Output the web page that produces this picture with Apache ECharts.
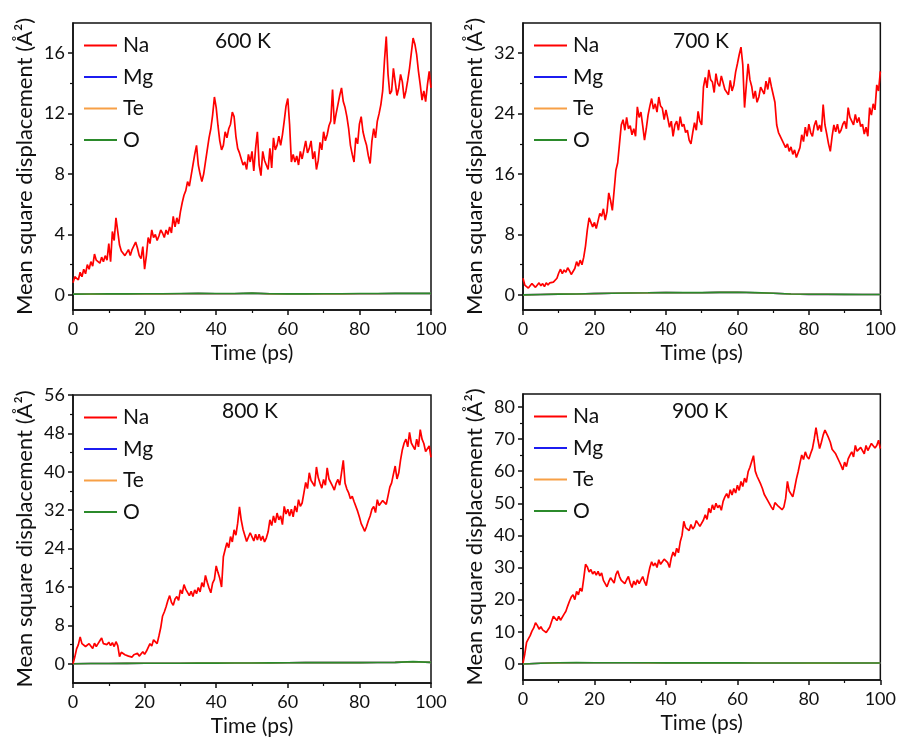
<!DOCTYPE html>
<html><head><meta charset="utf-8">
<script src="https://cdn.jsdelivr.net/npm/echarts@6/dist/echarts.min.js"></script>
<style>html,body{margin:0;padding:0;background:#fff}#c{width:899px;height:740px}</style>
</head><body><div id="c"></div>
<script>
// sampling grids (ps)
const naStep = 0.5;
const smallStep = 5;
const temperatures = ['600 K', '700 K', '800 K', '900 K'];
const speciesNames = ['Na', 'Mg', 'Te', 'O'];
const xTickLabels = [0, 20, 40, 60, 80, 100];

// Na MSD (Å²), every 0.5 ps from 0 to 100 ps
const na600 = [
0.8,1.2,1.3,1.0,1.5,1.2,1.7,1.4,2.0,1.7,
2.2,1.9,2.7,2.3,2.3,2.1,2.5,2.2,2.6,2.3,
3.4,2.2,4.2,3.6,5.1,4.2,3.3,2.9,2.9,2.6,
2.7,3.0,2.6,3.0,2.9,3.5,3.1,2.6,2.4,3.2,
1.7,2.6,3.8,3.4,4.3,3.8,4.0,3.6,3.9,4.3,
4.1,3.8,4.3,4.0,4.5,4.1,5.2,4.5,5.1,4.7,
5.5,6.1,6.6,6.9,7.5,7.2,7.9,8.6,9.3,9.9,
8.6,8.0,7.5,8.0,8.8,9.6,10.4,11.0,11.9,13.1,
12.4,11.2,10.2,9.6,9.9,10.8,10.4,11.0,11.3,12.1,
11.8,10.5,9.7,9.4,9.3,8.6,8.8,8.3,9.3,8.8,
9.5,8.2,9.7,10.8,8.6,7.9,9.5,8.9,9.0,8.3,
9.7,8.4,10.4,9.6,9.9,10.5,9.9,10.6,11.5,12.5,
13.0,11.3,8.8,9.3,8.8,9.2,8.6,9.5,9.0,9.6,
10.2,9.4,9.7,10.2,9.0,9.5,8.3,8.9,10.1,9.6,
10.8,10.2,10.6,11.2,11.5,13.6,11.3,12.0,12.6,13.2,
13.7,12.8,12.4,11.8,11.0,9.9,9.3,8.8,10.4,10.0,
11.3,11.8,10.8,10.3,9.9,9.2,8.7,10.2,11.0,10.4,
11.5,12.0,12.6,13.5,15.5,17.1,14.6,13.3,13.5,15.0,
14.1,13.2,13.7,14.6,14.1,13.0,13.5,14.2,15.0,16.0,
17.0,16.6,15.9,14.8,13.9,12.9,13.5,12.8,13.9,14.8,
13.7];
const na700 = [
2.2,1.3,1.4,0.9,1.2,1.5,1.6,1.0,1.3,1.6,
1.2,1.5,1.1,1.6,1.3,1.6,1.4,1.7,1.6,2.2,
2.9,3.4,2.8,3.3,3.0,3.6,3.2,2.7,2.6,3.5,
4.4,3.8,4.6,4.0,5.0,6.5,8.6,10.2,10.0,9.0,
9.6,8.8,9.8,10.8,10.4,11.4,9.9,11.0,13.5,12.5,
11.2,13.8,16.5,17.5,20.0,22.5,23.2,21.8,23.5,22.0,
22.4,21.2,22.0,21.0,24.9,23.5,24.2,22.4,20.5,22.0,
23.8,25.0,26.0,24.6,25.3,24.2,26.2,25.0,24.7,23.2,
24.5,23.4,22.2,23.0,21.0,22.5,23.0,21.8,23.6,22.3,
22.6,21.5,21.8,20.5,20.0,21.5,22.8,21.8,24.3,23.0,
22.5,27.5,28.8,27.4,29.8,28.5,28.2,26.8,29.3,28.0,
27.6,29.0,28.9,27.2,27.4,26.5,28.4,27.0,27.8,29.5,
30.6,31.8,32.8,30.5,24.8,27.8,30.6,28.5,27.6,26.0,
27.0,25.5,26.2,27.5,27.4,26.6,28.3,27.2,28.8,27.6,
27.4,25.5,22.5,21.5,21.4,20.5,20.6,19.5,20.0,19.0,
19.6,18.6,19.2,18.2,18.0,19.5,21.2,20.3,22.2,21.0,
22.6,21.5,21.0,22.4,23.1,21.8,22.5,21.6,25.2,22.5,
21.3,20.0,19.0,21.0,22.5,21.6,22.6,21.4,21.8,22.6,
23.0,22.0,24.8,23.5,23.5,22.5,23.9,22.8,23.5,22.3,
22.6,21.3,22.2,21.0,24.8,23.8,25.3,24.5,27.8,27.0,
29.6];
const na800 = [
0.0,1.4,3.1,4.0,5.6,4.2,4.6,3.6,3.4,4.2,
3.8,3.2,4.3,3.6,4.2,4.8,5.4,4.2,4.6,4.0,
4.5,3.8,4.4,3.6,4.6,3.8,1.5,2.4,2.6,1.9,
2.3,1.6,1.8,1.4,1.9,1.5,2.2,1.6,1.8,2.5,
2.0,2.6,2.9,4.2,3.7,5.0,4.8,4.2,5.8,7.5,
9.9,10.8,11.9,13.2,14.2,12.8,12.2,13.5,14.0,13.2,
15.4,14.6,16.5,15.5,15.4,14.2,15.1,14.0,15.4,14.6,
15.9,15.0,16.9,16.0,18.4,17.0,15.8,14.8,16.8,17.6,
20.4,19.0,17.8,16.0,22.3,23.8,25.2,24.2,26.5,25.4,
27.9,26.8,29.3,32.7,29.9,28.0,27.6,25.5,25.6,27.3,
27.2,25.6,27.0,25.8,27.0,25.7,26.6,25.4,26.2,27.5,
30.0,28.8,30.8,29.4,31.4,30.0,30.8,29.0,32.8,31.2,
32.2,30.8,32.2,30.6,32.9,31.6,34.2,32.8,33.5,35.6,
37.8,36.5,39.8,38.2,38.4,37.0,41.0,38.8,37.6,36.6,
38.4,37.2,40.8,38.5,38.4,37.0,36.2,37.6,38.4,37.2,
39.8,42.4,37.6,36.4,35.6,34.4,34.9,33.8,33.5,31.8,
30.6,29.2,28.4,27.6,28.6,29.8,30.8,32.2,32.8,31.5,
34.2,33.0,32.7,34.0,34.2,33.2,35.0,36.8,37.7,39.5,
41.2,38.5,39.8,42.5,44.6,46.0,46.8,45.2,48.2,46.0,
45.9,44.6,46.8,45.2,48.8,46.8,45.9,44.2,43.8,45.4,
43.0];
const na900 = [
0.3,3.1,6.7,7.8,8.8,10.2,11.2,12.8,12.0,10.8,
11.6,10.6,11.2,9.8,9.5,11.5,13.2,14.8,14.6,13.5,
14.8,13.6,14.0,15.5,16.4,18.0,19.5,20.8,21.5,20.0,
22.6,21.5,23.6,22.6,26.6,31.0,30.2,28.6,29.4,28.0,
28.8,27.6,28.8,27.4,28.3,26.0,26.6,24.0,25.6,26.8,
26.6,25.2,27.8,29.0,27.2,26.0,26.2,25.0,26.2,27.2,
25.2,23.8,25.8,24.6,26.2,25.0,25.2,27.2,25.6,24.4,
27.5,30.0,31.8,30.5,31.4,30.0,32.4,31.0,30.8,32.6,
33.0,31.5,30.0,33.0,34.8,33.5,36.0,34.6,38.0,40.0,
44.4,42.4,43.0,41.5,43.4,42.0,42.8,44.6,44.2,42.8,
43.2,44.8,46.4,45.0,48.4,47.0,49.5,48.0,50.0,48.6,
49.4,47.8,50.6,52.0,53.0,51.6,54.2,52.6,54.6,53.2,
55.6,54.0,56.8,55.2,57.8,56.5,59.8,61.2,63.0,64.8,
60.0,58.4,57.8,56.0,54.6,52.8,52.6,50.8,50.6,48.8,
48.0,50.2,50.6,49.0,49.4,48.0,48.8,51.5,56.8,53.8,
53.6,52.0,54.6,57.5,59.8,62.5,65.0,63.6,66.0,64.5,
63.8,65.5,67.0,70.0,73.5,70.0,67.0,69.0,71.2,72.8,
72.2,70.4,69.0,66.8,67.0,65.4,64.8,63.0,61.8,60.4,
62.8,61.4,63.8,65.0,66.0,64.4,68.0,66.2,65.8,67.4,
67.0,65.4,68.0,66.4,67.0,68.6,69.0,67.2,68.0,69.6,
67.0];

// Mg, Te, O MSD (Å²), every 5 ps from 0 to 100 ps
const mg600 = [0.04,0.05,0.06,0.06,0.07,0.07,0.08,0.09,0.08,0.08,0.11,0.07,0.06,0.06,0.07,0.07,0.08,0.08,0.09,0.09,0.09];
const te600 = [0.04,0.05,0.06,0.06,0.07,0.07,0.08,0.09,0.08,0.08,0.11,0.07,0.06,0.06,0.07,0.07,0.08,0.08,0.09,0.09,0.09];
const o600  = [0.05,0.06,0.07,0.07,0.08,0.08,0.09,0.10,0.09,0.09,0.12,0.08,0.07,0.07,0.08,0.08,0.09,0.09,0.10,0.10,0.10];
const mg700 = [0.0,0.05,0.1,0.12,0.17,0.21,0.25,0.27,0.31,0.29,0.29,0.33,0.35,0.29,0.21,0.11,0.07,0.07,0.06,0.05,0.05];
const te700 = [0.0,0.05,0.1,0.12,0.17,0.21,0.25,0.27,0.31,0.29,0.29,0.33,0.35,0.29,0.21,0.11,0.07,0.07,0.06,0.05,0.05];
const o700  = [0.0,0.05,0.1,0.12,0.18,0.22,0.26,0.28,0.32,0.30,0.30,0.34,0.36,0.30,0.22,0.12,0.08,0.08,0.07,0.06,0.06];
const mg800 = [0.0,0.05,0.06,0.08,0.10,0.12,0.12,0.14,0.15,0.16,0.18,0.20,0.22,0.24,0.24,0.25,0.24,0.26,0.30,0.44,0.30];
const te800 = [0.0,0.05,0.06,0.08,0.10,0.12,0.12,0.14,0.15,0.16,0.18,0.20,0.22,0.24,0.24,0.25,0.24,0.26,0.30,0.44,0.30];
const o800  = [0.0,0.05,0.06,0.08,0.10,0.12,0.12,0.14,0.15,0.16,0.18,0.20,0.22,0.24,0.24,0.25,0.24,0.26,0.30,0.45,0.30];
const mg900 = [0.0,0.2,0.34,0.39,0.37,0.35,0.35,0.34,0.33,0.33,0.32,0.31,0.31,0.29,0.27,0.27,0.26,0.26,0.27,0.29,0.29];
const te900 = [0.0,0.2,0.34,0.39,0.37,0.35,0.35,0.34,0.33,0.33,0.32,0.31,0.31,0.29,0.27,0.27,0.26,0.26,0.27,0.29,0.29];
const o900  = [0.0,0.2,0.35,0.40,0.38,0.36,0.36,0.35,0.34,0.34,0.33,0.32,0.32,0.30,0.28,0.28,0.27,0.27,0.28,0.30,0.30];

// y-axis tick labels and ranges
const yRange600 = [-1, 18];  const yTicks600 = [0, 4, 8, 12, 16];      const yMinor600 = [2, 6, 10, 14];
const yRange700 = [-2, 36];  const yTicks700 = [0, 8, 16, 24, 32];     const yMinor700 = [4, 12, 20, 28];
const yRange800 = [-4, 56];  const yTicks800 = [0, 8, 16, 24, 32, 40, 48, 56]; const yMinor800 = [4, 12, 20, 28, 36, 44, 52];
const yRange900 = [-5, 84];  const yTicks900 = [0, 10, 20, 30, 40, 50, 60, 70, 80]; const yMinor900 = [5, 15, 25, 35, 45, 55, 65, 75];

const panels = [
  {na: na600, mg: mg600, te: te600, o: o600, range: yRange600, ticks: yTicks600, minor: yMinor600},
  {na: na700, mg: mg700, te: te700, o: o700, range: yRange700, ticks: yTicks700, minor: yMinor700},
  {na: na800, mg: mg800, te: te800, o: o800, range: yRange800, ticks: yTicks800, minor: yMinor800},
  {na: na900, mg: mg900, te: te900, o: o900, range: yRange900, ticks: yTicks900, minor: yMinor900}
];

const layout = [
  {left: 73, top: 23, width: 358, height: 287, tx: 244, ty: 43},
  {left: 523, top: 23, width: 358, height: 287, tx: 702, ty: 43},
  {left: 73, top: 395, width: 358, height: 288, tx: 251, ty: 413},
  {left: 523, top: 394, width: 358, height: 286, tx: 701, ty: 413}
];
const colors = {Na: '#ff0000', Mg: '#1c1cf0', Te: '#f7a046', O: '#2b8a2b'};
const FONT = 'Lato';
const INK = '#111111';

function pairs(arr, step) { return arr.map((v, i) => [i * step, v]); }

const option = {
  animation: false,
  backgroundColor: '#fff',
  textStyle: {fontFamily: FONT, color: INK},
  grid: [], xAxis: [], yAxis: [], series: [], legend: [], graphic: []
};

panels.forEach((p, i) => {
  const L = layout[i];
  option.grid.push({left: L.left, top: L.top, width: L.width, height: L.height,
    show: true, borderColor: INK, borderWidth: 1.5, backgroundColor: 'transparent'});
  option.xAxis.push({
    type: 'value', gridIndex: i, min: 0, max: 100, interval: 20,
    name: 'Time (ps)', nameLocation: 'middle', nameGap: 33,
    nameTextStyle: {fontFamily: FONT, fontSize: 21, color: INK},
    axisLine: {show: true, onZero: false, lineStyle: {color: INK, width: 1.5}},
    axisTick: {show: true, inside: false, length: 5, lineStyle: {color: INK, width: 1.5}},
    minorTick: {show: true, splitNumber: 2, length: 3, lineStyle: {color: INK, width: 1.2}},
    axisLabel: {fontFamily: FONT, fontSize: 18, color: INK, margin: 10,
      customValues: xTickLabels},
    splitLine: {show: false}
  });
  option.yAxis.push({
    type: 'value', gridIndex: i, min: p.range[0], max: p.range[1],
    name: 'Mean square displacement (Å²)', nameLocation: 'middle', nameGap: 37,
    nameTextStyle: {fontFamily: FONT, fontSize: 22, color: INK},
    axisLine: {show: true, onZero: false, lineStyle: {color: INK, width: 1.5}},
    axisTick: {show: true, inside: false, length: 5, lineStyle: {color: INK, width: 1.5},
      customValues: p.ticks},
    axisLabel: {fontFamily: FONT, fontSize: 18, color: INK, margin: 8, customValues: p.ticks},
    splitLine: {show: false}
  });
  // minor ticks on y
  option.yAxis.push({
    type: 'value', gridIndex: i, min: p.range[0], max: p.range[1], position: 'left',
    axisLine: {show: false},
    axisTick: {show: true, inside: false, length: 3, lineStyle: {color: INK, width: 1.2},
      customValues: p.minor},
    axisLabel: {show: false, customValues: p.minor},
    splitLine: {show: false}
  });
  const yi = i * 2;
  [['Mg', pairs(p.mg, smallStep)], ['Te', pairs(p.te, smallStep)], ['O', pairs(p.o, smallStep)], ['Na', pairs(p.na, naStep)]]
    .forEach(([nm, data]) => {
      option.series.push({
        type: 'line', name: nm, xAxisIndex: i, yAxisIndex: yi, data: data,
        showSymbol: false, symbol: 'none', smooth: false,
        lineStyle: {color: colors[nm], width: nm === 'Na' ? 1.7 : 1.6},
        itemStyle: {color: colors[nm]}, z: nm === 'Na' ? 3 : 2
      });
    });
  option.legend.push({
    data: speciesNames, orient: 'vertical', left: L.left + 6, top: L.top + 7,
    icon: 'rect', itemWidth: 33, itemHeight: 2, itemGap: 10.5,
    textStyle: {fontFamily: FONT, fontSize: 21, color: INK, padding: [0, 0, 0, 1]},
    selectedMode: false
  });
  option.graphic.push({
    type: 'text', left: L.tx - 29, top: L.ty - 12, z: 10,
    style: {text: temperatures[i], font: '21px ' + FONT, fill: INK}
  });
});

const chart = echarts.init(document.getElementById('c'), null, {renderer: 'canvas'});
chart.setOption(option);
</script>
</body></html>
